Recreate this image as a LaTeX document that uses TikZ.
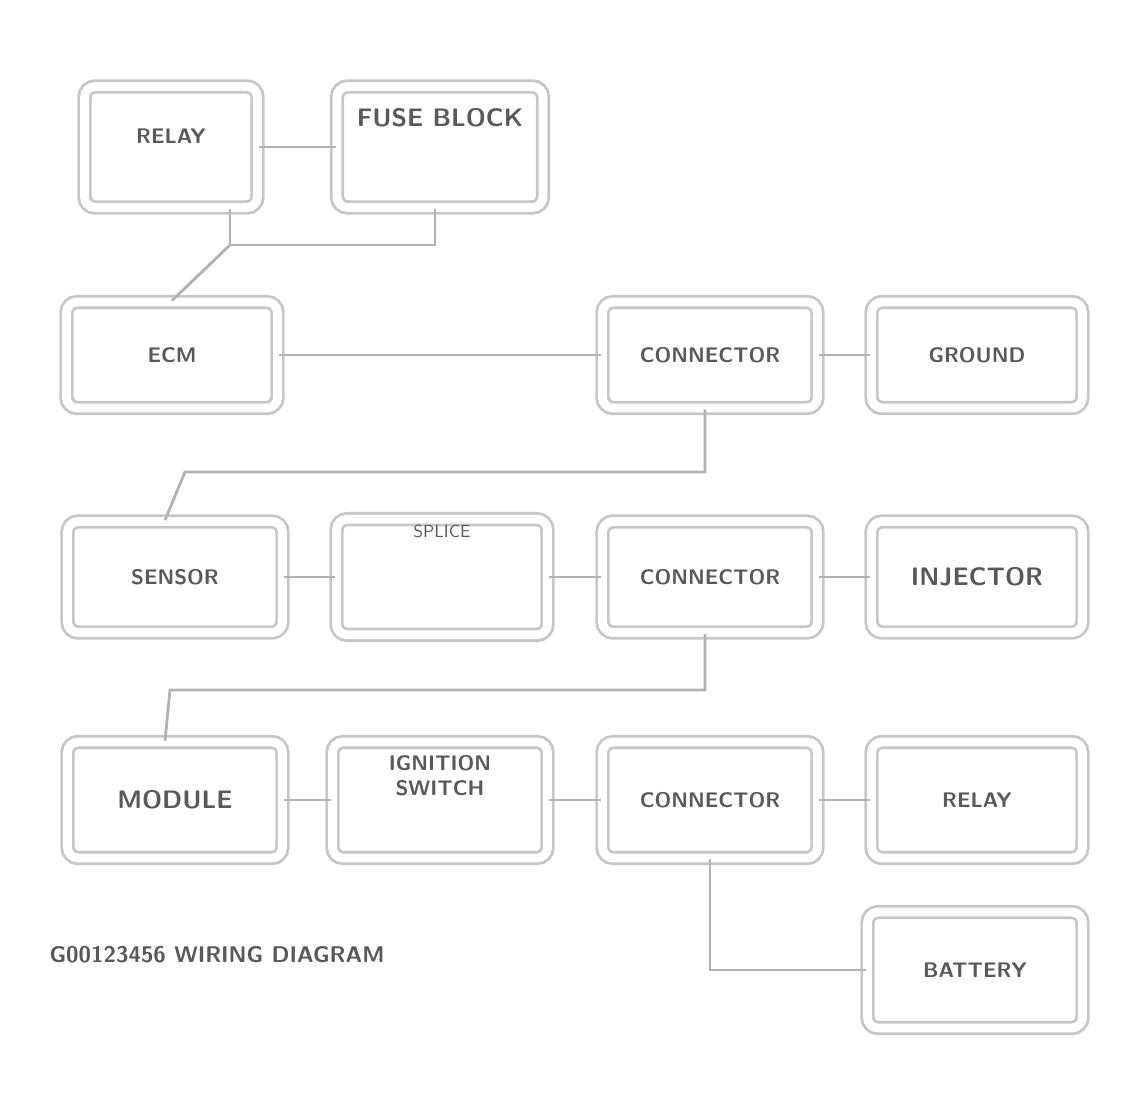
\documentclass[tikz,border=0pt]{standalone}
\usetikzlibrary{positioning}
\begin{document}
\begin{tikzpicture}[x=0.02cm, y=-0.02cm, line width=1.6pt, draw=black!30,
    every node/.style={draw=black!22, double=white, double distance=5pt, rounded corners=6pt,
        font=\sffamily\bfseries\large, text=black!65, align=center, minimum width=4.3cm}]
            \useasboundingbox (0,0) rectangle (1127,1107);
            % first row
            \node[minimum width=3.46cm, minimum height=2.42cm] (relay) at (171,147) {RELAY\\[-2pt]};
            \node[minimum width=4.12cm, minimum height=2.42cm, font=\sffamily\bfseries\Large] (fuse) at (440,147) {FUSE BLOCK\\[16pt]};
            % second row
            \node[minimum width=4.22cm, minimum height=2.12cm] (ecm) at (172,355) {ECM};
            \node[minimum height=2.12cm] (connA) at (710,355) {CONNECTOR};
            \node[minimum width=4.22cm, minimum height=2.12cm] (ground) at (977,355) {GROUND};
            % third row
            \node[minimum height=2.22cm] (sensor) at (175,577) {SENSOR};
            \node[minimum width=4.22cm, minimum height=2.22cm, font=\sffamily\normalsize] (splice) at (442,577) {SPLICE\\[40pt]};
            \node[minimum height=2.22cm] (connB) at (710,577) {CONNECTOR};
            \node[minimum width=4.22cm, minimum height=2.22cm, font=\sffamily\bfseries\Large] (inj) at (977,577) {INJECTOR};
            % fourth row
            \node[minimum height=2.32cm, font=\sffamily\bfseries\Large] (module) at (175,800) {MODULE};
            \node[minimum height=2.32cm] (ign) at (440,800) {IGNITION\\SWITCH\\[14pt]};
            \node[minimum height=2.32cm] (connC) at (710,800) {CONNECTOR};
            \node[minimum width=4.22cm, minimum height=2.32cm] (relayB) at (977,800) {RELAY};
            \node[minimum height=2.32cm] (batt) at (975,970) {BATTERY};
            \node[draw=none, double=none, minimum width=0pt, font=\sffamily\bfseries\fontsize{12.9}{15}\selectfont] (caption) at (217,955) {G00123456 WIRING DIAGRAM};

            \coordinate (j1) at (230,245);
            \coordinate (j2) at (435,245);
            \coordinate (k1) at (705,472);
            \coordinate (k2) at (185,472);
            \coordinate (m1) at (705,690);
            \coordinate (m2) at (170,690);
            \draw (relay) -- (fuse);
            \draw (relay.south -| j1) -- (j1) -- (j2) -- (fuse.south -| j2);
            \draw (j1) -- (ecm.north);
            \draw (ecm) -- (connA);
            \draw (connA) -- (ground);
            \draw (connA.south -| k1) -- (k1) -- (k2) -- (sensor.north -| 165,0);
            \draw (sensor) -- (splice);
            \draw (splice) -- (connB);
            \draw (connB) -- (inj);
            \draw (connB.south -| m1) -- (m1) -- (m2) -- (module.north -| 165,0);
            \draw (module) -- (ign);
            \draw (ign) -- (connC);
            \draw (connC) -- (relayB);
            \draw (connC.south -| 710,0) |- (batt.west);
          \end{tikzpicture}
\end{document}
